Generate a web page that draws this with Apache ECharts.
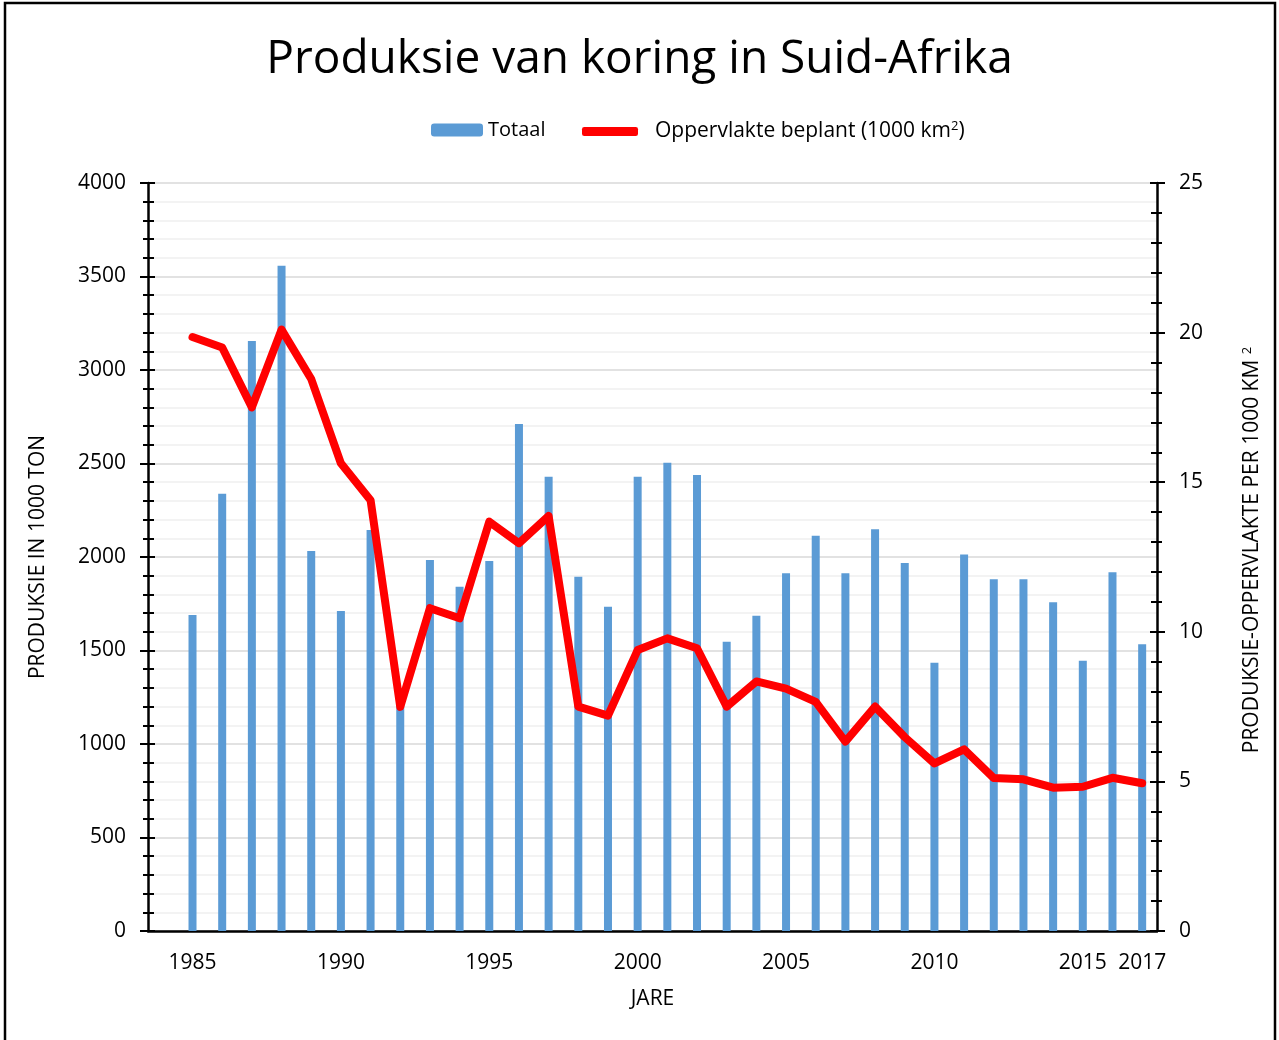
<!DOCTYPE html>
<html>
<head>
<meta charset="utf-8">
<script src="https://cdn.jsdelivr.net/npm/echarts@6/dist/echarts.min.js"></script>
<style>
  html, body { margin: 0; padding: 0; background: #fff; }
  #chart { width: 1279px; height: 1040px; }
</style>
</head>
<body>
<div id="chart"></div>
<script>
const years = ['1985', '1986', '1987', '1988', '1989', '1990', '1991', '1992', '1993', '1994',
  '1995', '1996', '1997', '1998', '1999', '2000', '2001', '2002', '2003', '2004',
  '2005', '2006', '2007', '2008', '2009', '2010', '2011', '2012', '2013', '2014',
  '2015', '2016', '2017'];
// produksie in 1000 ton
const totaal = [1690, 2338, 3155, 3558, 2032, 1711, 2144, 1250, 1984, 1841,
  1979, 2711, 2429, 1895, 1734, 2429, 2504, 2439, 1547, 1686,
  1913, 2114, 1913, 2148, 1968, 1435, 2014, 1881, 1881, 1758,
  1445, 1918, 1533];
// oppervlakte beplant, 1000 km2
const oppervlakte = [19.85, 19.5, 17.5, 20.1, 18.45, 15.63, 14.4, 7.49, 10.79, 10.45,
  13.68, 12.96, 13.87, 7.5, 7.2, 9.39, 9.78, 9.45, 7.5, 8.34,
  8.1, 7.66, 6.33, 7.5, 6.48, 5.6, 6.07, 5.11, 5.07, 4.79,
  4.82, 5.12, 4.94];
const xTickLabels = ['1985', '1990', '1995', '2000', '2005', '2010', '2015', '2017'];

const barName = 'Totaal';
const lineName = 'Oppervlakte beplant (1000 km2)';
const font = 'Open Sans';

// leading empty slot, the first bar sits one step in from the axis
const cats = [''].concat(years);

const chart = echarts.init(document.getElementById('chart'));

const tickStyle = { color: '#000', width: 2 };

const option = {
  animation: false,
  textStyle: { fontFamily: font, color: '#000' },
  title: {
    text: 'Produksie van koring in Suid-Afrika',
    left: 'center',
    top: 32,
    textStyle: { fontFamily: font, fontSize: 46, fontWeight: 'normal', color: '#000' }
  },
  legend: [
    {
      data: [barName],
      left: 426,
      top: 115,
      itemWidth: 52,
      itemHeight: 13,
      textStyle: { fontFamily: font, fontSize: 20, color: '#000' }
    },
    {
      data: [{ name: lineName, icon: 'roundRect' }],
      left: 577,
      top: 115,
      itemWidth: 56,
      itemHeight: 9,
      formatter: function () {
        return 'Oppervlakte beplant (1000 km{sup|2})';
      },
      textStyle: {
        fontFamily: font, fontSize: 21, color: '#000', padding: [0, 0, 0, 12],
        rich: { sup: { fontSize: 13, verticalAlign: 'top', padding: [0, 0, 10, 0] } }
      }
    }
  ],
  grid: { left: 148, right: 122, top: 183, bottom: 109 },
  xAxis: [
    {
      type: 'category',
      data: cats,
      boundaryGap: true,
      name: 'JARE',
      nameLocation: 'middle',
      nameGap: 58,
      nameTextStyle: { fontFamily: font, fontSize: 21, color: '#000' },
      axisLine: { lineStyle: { color: '#000', width: 2.5 } },
      axisTick: { interval: 0, length: 6, lineStyle: tickStyle },
      axisLabel: {
        interval: function (i, v) { return xTickLabels.indexOf(v) >= 0; },
        margin: 22,
        fontFamily: font,
        fontSize: 21,
        color: '#000'
      },
      splitLine: { show: false }
    },
    {
      type: 'category',
      data: cats,
      boundaryGap: true,
      position: 'bottom',
      axisLine: { show: false },
      axisTick: { interval: 0, inside: true, length: 6, lineStyle: tickStyle },
      axisLabel: { show: false },
      splitLine: { show: false }
    }
  ],
  yAxis: [
    {
      type: 'value',
      position: 'left',
      min: 0,
      max: 4000,
      interval: 500,
      name: 'PRODUKSIE IN 1000 TON',
      nameLocation: 'middle',
      nameRotate: 90,
      nameGap: 99,
      nameTextStyle: { fontFamily: font, fontSize: 21, color: '#000' },
      axisLine: { show: true, lineStyle: { color: '#000', width: 2.5 } },
      axisTick: { show: true, length: 8, lineStyle: tickStyle },
      minorTick: { show: true, splitNumber: 5, length: 5, lineStyle: tickStyle },
      axisLabel: {
        margin: 22, fontFamily: font, fontSize: 21, color: '#000',
        formatter: function (v) { return String(v); }
      },
      splitLine: { show: true, lineStyle: { color: '#d9d9d9', width: 1.5 } },
      minorSplitLine: { show: true, lineStyle: { color: '#f0f0f0', width: 1.5 } }
    },
    {
      type: 'value',
      position: 'right',
      min: 0,
      max: 25,
      interval: 5,
      name: 'PRODUKSIE-OPPERVLAKTE PER 1000 KM {sup|2}',
      nameLocation: 'middle',
      nameRotate: 90,
      nameGap: 84,
      nameTextStyle: {
        fontFamily: font, fontSize: 21, color: '#000', padding: [0, 0, 0, 14],
        rich: { sup: { fontSize: 13, verticalAlign: 'top', padding: [0, 0, 10, 0] } }
      },
      axisLine: { show: true, lineStyle: { color: '#000', width: 2.5 } },
      axisTick: { show: true, length: 8, lineStyle: tickStyle },
      minorTick: { show: true, splitNumber: 5, length: 5, lineStyle: tickStyle },
      axisLabel: { margin: 22, fontFamily: font, fontSize: 21, color: '#000' },
      splitLine: { show: false }
    },
    {
      type: 'value',
      position: 'left',
      min: 0,
      max: 4000,
      interval: 500,
      axisLine: { show: false },
      axisTick: { show: true, inside: true, length: 7, lineStyle: tickStyle },
      minorTick: { show: true, splitNumber: 5, length: 6, lineStyle: tickStyle },
      axisLabel: { show: false },
      splitLine: { show: false }
    },
    {
      type: 'value',
      position: 'right',
      min: 0,
      max: 25,
      interval: 5,
      axisLine: { show: false },
      axisTick: { show: true, inside: true, length: 7, lineStyle: tickStyle },
      minorTick: { show: true, splitNumber: 5, length: 6, lineStyle: tickStyle },
      axisLabel: { show: false },
      splitLine: { show: false }
    }
  ],
  graphic: [
    {
      type: 'rect',
      shape: { x: 5, y: 3, width: 1270, height: 1060 },
      style: { fill: 'none', stroke: '#000', lineWidth: 2.5 },
      silent: true
    }
  ],
  series: [
    {
      name: barName,
      type: 'bar',
      xAxisIndex: 0,
      yAxisIndex: 0,
      data: [null].concat(totaal),
      barWidth: 8,
      itemStyle: { color: '#5b9bd5' }
    },
    {
      name: lineName,
      type: 'line',
      xAxisIndex: 0,
      yAxisIndex: 1,
      data: [null].concat(oppervlakte),
      symbol: 'none',
      lineStyle: { color: '#ff0000', width: 8, cap: 'round', join: 'round' },
      itemStyle: { color: '#ff0000' }
    }
  ]
};

chart.setOption(option);
</script>
</body>
</html>
